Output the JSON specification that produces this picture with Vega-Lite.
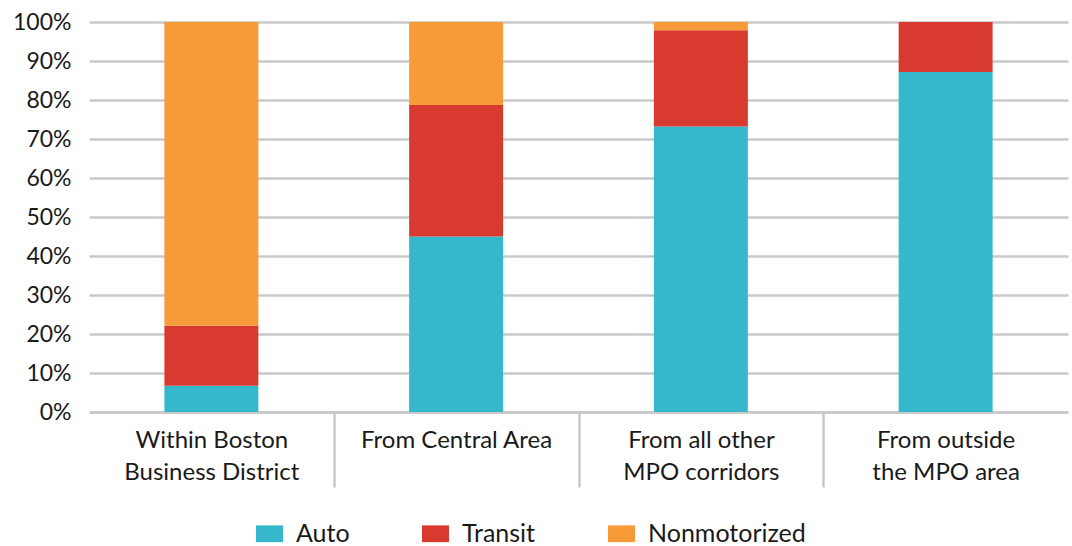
{
  "$schema": "https://vega.github.io/schema/vega-lite/v6.json",
  "autosize": "none",
  "width": 979,
  "height": 390,
  "padding": {"left": 89, "top": 22, "right": 4, "bottom": 134},
  "background": "white",
  "config": {
    "view": {"stroke": null},
    "font": "Lato",
    "axis": {"labelFont": "Lato", "labelColor": "#1a1a1a", "labelFontSize": 24, "title": null, "labelLimit": 400}
  },
  "data": {
    "values": [
      {"origin": "Within Boston Business District", "mode": "Auto", "share": 6.7, "rank": 1},
      {"origin": "Within Boston Business District", "mode": "Transit", "share": 15.4, "rank": 2},
      {"origin": "Within Boston Business District", "mode": "Nonmotorized", "share": 77.9, "rank": 3},
      {"origin": "From Central Area", "mode": "Auto", "share": 45.0, "rank": 1},
      {"origin": "From Central Area", "mode": "Transit", "share": 33.7, "rank": 2},
      {"origin": "From Central Area", "mode": "Nonmotorized", "share": 21.3, "rank": 3},
      {"origin": "From all other MPO corridors", "mode": "Auto", "share": 73.2, "rank": 1},
      {"origin": "From all other MPO corridors", "mode": "Transit", "share": 24.7, "rank": 2},
      {"origin": "From all other MPO corridors", "mode": "Nonmotorized", "share": 2.1, "rank": 3},
      {"origin": "From outside the MPO area", "mode": "Auto", "share": 87.2, "rank": 1},
      {"origin": "From outside the MPO area", "mode": "Transit", "share": 12.8, "rank": 2},
      {"origin": "From outside the MPO area", "mode": "Nonmotorized", "share": 0, "rank": 3}
    ]
  },
  "mark": {"type": "bar", "width": {"band": 0.384}},
  "encoding": {
    "x": {
      "field": "origin",
      "type": "nominal",
      "sort": null,
      "scale": {"paddingInner": 0, "paddingOuter": 0},
      "axis": {
        "labelAngle": 0,
        "domainColor": "#c9c9c9",
        "domainWidth": 2.5,
        "tickBand": "extent",
        "tickSize": 75,
        "tickColor": "#c9c9c9",
        "tickWidth": 2.5,
        "tickOpacity": {"condition": {"test": "datum.index < 0 || datum.index > 0.999", "value": 0}, "value": 1},
        "labelPadding": -59,
        "labelLineHeight": 32,
        "labelBaseline": "top",
        "labelExpr": "datum.value == 'Within Boston Business District' ? ['Within Boston', 'Business District'] : datum.value == 'From all other MPO corridors' ? ['From all other', 'MPO corridors'] : datum.value == 'From outside the MPO area' ? ['From outside', 'the MPO area'] : datum.value"
      }
    },
    "y": {
      "field": "share",
      "type": "quantitative",
      "stack": "zero",
      "scale": {"domain": [0, 100], "nice": false},
      "axis": {
        "values": [0, 10, 20, 30, 40, 50, 60, 70, 80, 90, 100],
        "labelExpr": "datum.value + '%'",
        "labelFontSize": 23,
        "domain": false,
        "ticks": false,
        "labelPadding": 18,
        "gridColor": "#c9c9c9",
        "gridWidth": 2.5
      }
    },
    "color": {
      "field": "mode",
      "type": "nominal",
      "scale": {"domain": ["Auto", "Transit", "Nonmotorized"], "range": ["#35B8CB", "#D93A2F", "#F79A38"]},
      "legend": {
        "title": null,
        "orient": "none",
        "direction": "horizontal",
        "legendX": 167,
        "legendY": 498,
        "symbolType": "M-1,-0.62H1V0.62H-1Z",
        "symbolSize": 729,
        "symbolStrokeWidth": 0,
        "symbolOpacity": 1,
        "labelFont": "Lato",
        "labelFontSize": 25,
        "labelColor": "#1a1a1a",
        "labelOffset": 13,
        "columnPadding": 72,
        "encode": {
          "symbols": {"update": {"fill": {"signal": "datum.value == 'Nonmotorized' ? '#FBB540' : datum.value == 'Transit' ? '#D93A2F' : '#35B8CB'"}}}
        }
      }
    },
    "order": {"field": "rank", "type": "quantitative"}
  }
}
